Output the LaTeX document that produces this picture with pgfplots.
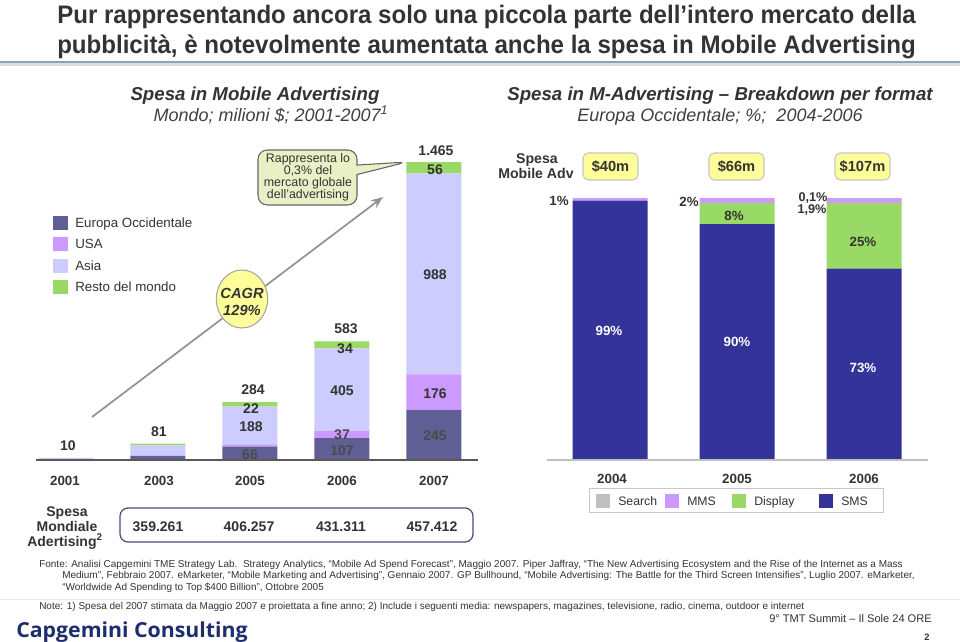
\documentclass[border=0pt]{standalone}
\usepackage{pgfplots}
\pgfplotsset{compat=1.18}
\usepackage{pgfplotstable}
\usepackage{fontspec}
\setmainfont{Liberation Sans}
\newfontfamily\titlefont[FakeStretch=0.95]{Liberation Sans}
\newfontfamily\logofont[FakeStretch=1.03]{Open Sans}
\usetikzlibrary{shapes.callouts,shapes.geometric,arrows.meta}

\definecolor{eur}{HTML}{5F5F96}
\definecolor{usa}{HTML}{CC99FF}
\definecolor{asia}{HTML}{CCCCFF}
\definecolor{rest}{HTML}{99D966}
\definecolor{sms}{HTML}{333399}
\definecolor{search}{HTML}{C0C0C0}
\definecolor{tc}{HTML}{333333}
\definecolor{tc2}{HTML}{404040}
\definecolor{eurlab}{HTML}{4A4A4A}
\definecolor{rulec}{HTML}{8EA2B8}
\definecolor{cagr}{HTML}{FFFF99}
\definecolor{callfill}{HTML}{E9F0C6}
\definecolor{boxc}{HTML}{4A4A7A}
\definecolor{logoc}{HTML}{1E2D6E}

\pgfplotstableread{
x eur usa asia rest
0 2 0 8 0
1 20 2 50 9
2 66 8 188 22
3 107 37 405 34
4 245 176 988 56
}\lefttab

\pgfplotstableread{
x sms disp mms search
0 99 0 1 0
1 90 8 2 0
2 73 25 1.9 0.1
}\righttab

\begin{document}
\begin{tikzpicture}
\path[use as bounding box, fill=white] (0,0) rectangle (720pt,-481.5pt);

\begin{scope}[x=0.75pt,y=-0.75pt]
% ---- title
\node[anchor=base west, inner sep=0, text=tc, font=\titlefont\bfseries\fontsize{19}{22}\selectfont] at (57,23.3) {Pur rappresentando ancora solo una piccola parte dell’intero mercato della};
\node[anchor=base west, inner sep=0, text=tc, font=\titlefont\bfseries\fontsize{19}{22}\selectfont] at (57,53.3) {pubblicità, è notevolmente aumentata anche la spesa in Mobile Advertising};
\fill[rulec] (0,61) rectangle (960,63.5);
\fill[rulec!35] (0,63.5) rectangle (960,66);

% ---- subtitles
\node[anchor=base, inner sep=0, text=tc, font=\bfseries\itshape\fontsize{14}{16}\selectfont] at (255,100.7) {Spesa in Mobile Advertising};
\node[anchor=base, inner sep=0, text=tc2, font=\itshape\fontsize{13.5}{16}\selectfont] at (271,121.7) {Mondo; milioni \$; 2001-2007\textsuperscript{1}};
\node[anchor=base, inner sep=0, text=tc, font=\bfseries\itshape\fontsize{14}{16}\selectfont] at (720,100.7) {Spesa in M-Advertising – Breakdown per format};
\node[anchor=base, inner sep=0, text=tc2, font=\itshape\fontsize{13.5}{16}\selectfont] at (720,121.7) {Europa Occidentale; \%;\ \ 2004-2006};

% ---- left legend
\fill[eur]  (53,216) rectangle (68,230);
\fill[usa]  (53,237) rectangle (68,251);
\fill[asia] (53,258.5) rectangle (68,272.5);
\fill[rest] (53,279.5) rectangle (68,293.5);
\begin{scope}[every node/.style={anchor=base west, inner sep=0, text=tc, font=\fontsize{10}{12}\selectfont}]
\node at (75,227.8) {Europa Occidentale};
\node at (75,248.8) {USA};
\node at (75,270.3) {Asia};
\node at (75,291.3) {Resto del mondo};
\end{scope}

% ---- CAGR arrow, circle, callout
\draw[color=gray!85, line width=1.3pt, -{Stealth[length=9pt,width=7pt]}] (92,417) -- (383,197);
\node[ellipse, draw=gray!70, line width=0.8pt, fill=cagr, minimum width=38.5pt, minimum height=43.5pt, inner sep=0] at (242,299) {};
\node[anchor=base, inner sep=0, text=tc, font=\bfseries\itshape\fontsize{11}{13}\selectfont] at (242,298.2) {CAGR};
\node[anchor=base, inner sep=0, text=tc, font=\bfseries\itshape\fontsize{11}{13}\selectfont] at (242,315.2) {129\%};
\node[rectangle callout, callout absolute pointer={(305.25pt,-121.5pt)}, rounded corners=7pt, draw=gray!80!black, line width=0.8pt, fill=callfill, minimum width=74.25pt, minimum height=41.25pt, inner sep=0] at (307.5,177.5) {};
\begin{scope}[every node/.style={anchor=base, inner sep=0, text=tc, font=\fontsize{9.3}{10}\selectfont}]
\node at (308,162) {Rappresenta lo};
\node at (308,174.5) {0,3\% del};
\node at (308,186.5) {mercato globale};
\node at (308,198.5) {dell’advertising};
\end{scope}

% ---- right header
\begin{scope}[every node/.style={anchor=base, inner sep=0, text=tc, font=\bfseries\fontsize{10.6}{12}\selectfont}]
\node at (537,163.1) {Spesa};
\node at (536,178.1) {Mobile Adv};
\end{scope}
\foreach \xa/\xb in {583/638, 709/764, 835/890}{
  \draw[draw=gray!45, fill=cagr, line width=0.8pt, rounded corners=4pt] (\xa,153) rectangle (\xb,180);
}
\begin{scope}[every node/.style={anchor=base, inner sep=0, text=tc, font=\bfseries\fontsize{11}{12}\selectfont}]
\node at (610.5,171.7) {\$40m};
\node at (736.5,171.7) {\$66m};
\node at (862.5,171.7) {\$107m};
\end{scope}
\end{scope}

% ================= LEFT CHART
\begin{axis}[at={(15pt,-345pt)}, anchor=south west, scale only axis,
  width=345pt, height=228.825pt, xmin=-0.5, xmax=4.5, ymin=0, ymax=1500,
  hide axis, ybar stacked, bar width=41.25pt, clip=false]
\addplot[fill=eur, draw=none] table[x=x, y=eur] {\lefttab};
\addplot[fill=usa, draw=none] table[x=x, y=usa] {\lefttab};
\addplot[fill=asia, draw=none] table[x=x, y=asia] {\lefttab};
\addplot[fill=rest, draw=none] table[x=x, y=rest] {\lefttab};
\end{axis}

% ================= RIGHT CHART
\begin{axis}[at={(409.875pt,-345pt)}, anchor=south west, scale only axis,
  width=285.75pt, height=196.5pt, xmin=-0.5, xmax=2.5, ymin=0, ymax=100,
  hide axis, ybar stacked, bar width=56.25pt, clip=false]
\addplot[fill=sms, draw=none] table[x=x, y=sms] {\righttab};
\addplot[fill=rest, draw=none] table[x=x, y=disp] {\righttab};
\addplot[fill=usa, draw=none] table[x=x, y=mms] {\righttab};
\addplot[fill=search, draw=none] table[x=x, y=search] {\righttab};
\end{axis}

\begin{scope}[x=0.75pt,y=-0.75pt]
\draw[color=black!65, line width=0.9pt] (36,460) -- (478,460);
\draw[color=black!25, line width=0.9pt] (547,460) -- (928,460);

% ---- left data labels
\begin{scope}[every node/.style={anchor=base, inner sep=0, text=tc, font=\bfseries\fontsize{10.5}{12}\selectfont}]
\node at (68,450) {10};
\node at (159,436) {81};
\node at (253,394) {284};
\node at (251,413) {22};
\node at (251,431) {188};
\node[text=eurlab] at (250,459) {66};
\node at (346,333) {583};
\node at (345,353) {34};
\node at (342,395) {405};
\node[text=eurlab] at (342,439) {37};
\node[text=eurlab] at (342,455) {107};
\node at (436,155) {1.465};
\node at (435,174) {56};
\node at (435,279) {988};
\node at (435,398) {176};
\node[text=eurlab] at (435,440) {245};
\end{scope}

% ---- years
\begin{scope}[every node/.style={anchor=base, inner sep=0, text=tc, font=\bfseries\fontsize{10}{12}\selectfont}]
\node at (65,485.8) {2001};
\node at (159,485.8) {2003};
\node at (250,485.8) {2005};
\node at (342,485.8) {2006};
\node at (434,485.8) {2007};
\node at (612,483.8) {2004};
\node at (737,483.8) {2005};
\node at (864,483.8) {2006};
\end{scope}

% ---- Spesa mondiale
\draw[draw=boxc, line width=0.9pt, rounded corners=6pt] (120,508) rectangle (473,542);
\begin{scope}[every node/.style={anchor=base, inner sep=0, text=tc, font=\bfseries\fontsize{10.5}{12}\selectfont}]
\node at (158,531) {359.261};
\node at (249,531) {406.257};
\node at (341,531) {431.311};
\node at (432,531) {457.412};
\node at (67,516) {Spesa};
\node at (67,531) {Mondiale};
\node at (65,546) {Adertising\textsuperscript{2}};
\end{scope}

% ---- right data labels
\begin{scope}[every node/.style={anchor=base, inner sep=0, text=tc, font=\bfseries\fontsize{10}{12}\selectfont}]
\node[text=white] at (609,335.8) {99\%};
\node[text=white] at (737,346.8) {90\%};
\node[text=white] at (863,372.8) {73\%};
\node at (734,220.8) {8\%};
\node at (863,246.8) {25\%};
\node at (559,205.8) {1\%};
\node at (689,206.8) {2\%};
\end{scope}
\begin{scope}[every node/.style={anchor=base, inner sep=0, text=tc, font=\bfseries\fontsize{9.5}{11}\selectfont}]
\node at (813,201.5) {0,1\%};
\node at (812,213.5) {1,9\%};
\end{scope}

% ---- right legend
\draw[draw=black!22, fill=white, line width=0.7pt] (589,488) rectangle (883,512);
\fill[search] (596,494) rectangle (610,508);
\fill[usa] (665,494) rectangle (679,508);
\fill[rest] (732,494) rectangle (746,508);
\fill[sms] (819,494) rectangle (833,508);
\begin{scope}[every node/.style={anchor=base west, inner sep=0, text=tc, font=\fontsize{9.2}{11}\selectfont}]
\node at (618,505.4) {Search};
\node at (687,505.4) {MMS};
\node at (754,505.4) {Display};
\node at (841,505.4) {SMS};
\end{scope}

% ---- footnotes
\begin{scope}[every node/.style={anchor=base west, inner sep=0, text=tc, font=\fontsize{7.5}{8}\selectfont}]
\node at (39,567) {Fonte: Analisi Capgemini TME Strategy Lab.\ \ Strategy Analytics, “Mobile Ad Spend Forecast”, Maggio 2007. Piper Jaffray, “The New Advertising Ecosystem and the Rise of the Internet as a Mass};
\node at (62,578.5) {Medium”, Febbraio 2007. eMarketer, “Mobile Marketing and Advertising”, Gennaio 2007. GP Bullhound, “Mobile Advertising: The Battle for the Third Screen Intensifies”, Luglio 2007. eMarketer,};
\node at (62,590) {“Worldwide Ad Spending to Top \$400 Billion”, Ottobre 2005};
\node at (39,609.5) {Note: 1) Spesa del 2007 stimata da Maggio 2007 e proiettata a fine anno; 2) Include i seguenti media: newspapers, magazines, televisione, radio, cinema, outdoor e internet};
\end{scope}
\fill[black!8] (0,599) rectangle (960,600.3);
\node[anchor=base east, inner sep=0, text=tc, font=\fontsize{8.3}{10}\selectfont] at (932,622) {9° TMT Summit – Il Sole 24 ORE};
\node[anchor=base, inner sep=0, text=tc, font=\bfseries\fontsize{7}{8}\selectfont] at (927,640.5) {2};
\node[anchor=base west, inner sep=0, text=logoc, font=\logofont\bfseries\fontsize{15.5}{17}\selectfont] at (16,637.5) {Capgemini Consulting};
\end{scope}
\end{tikzpicture}
\end{document}
